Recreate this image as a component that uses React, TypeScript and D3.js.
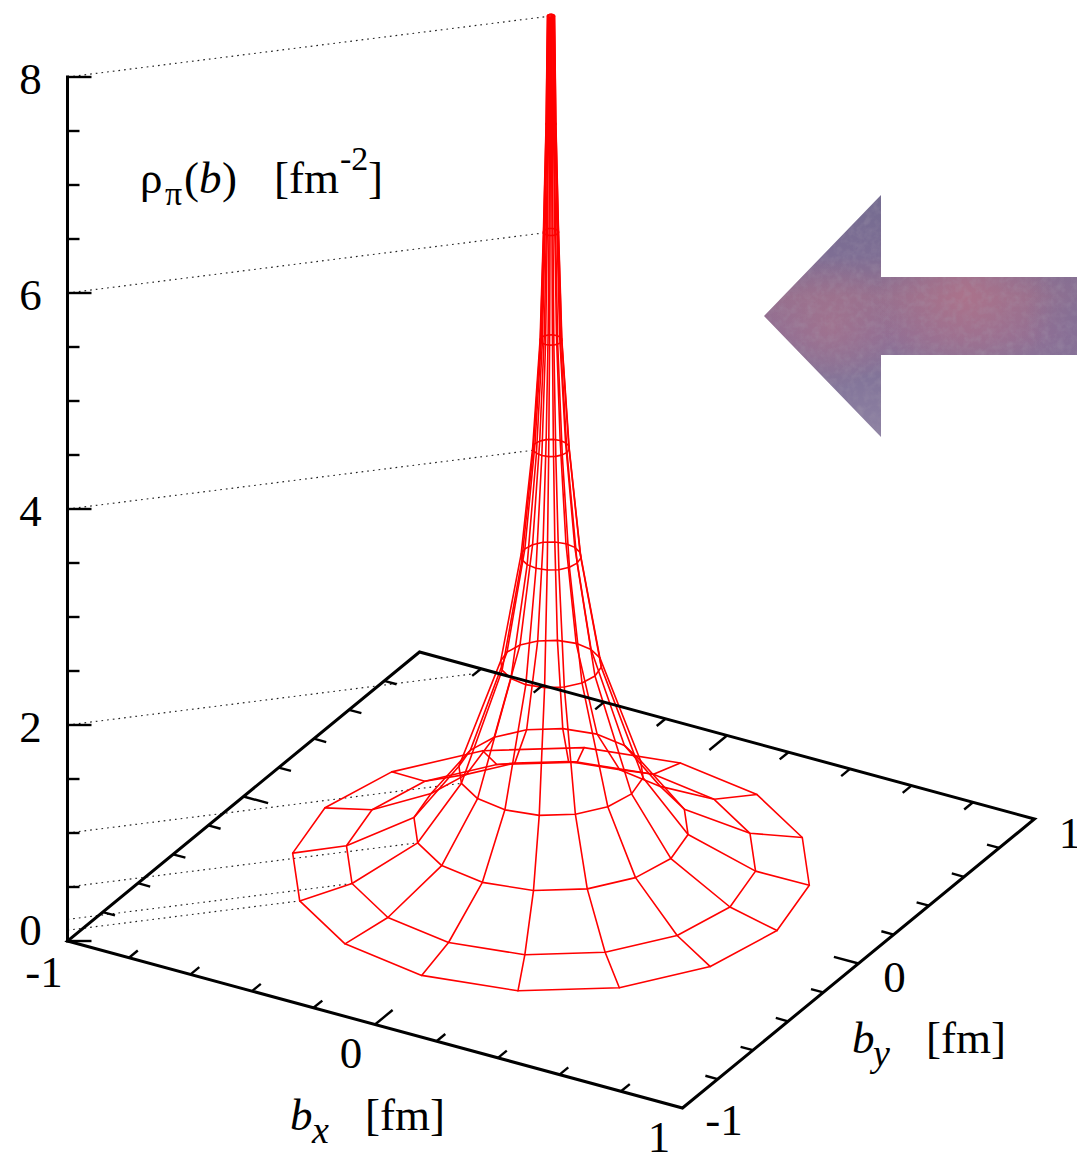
import React from "react";
import * as d3 from "d3";

// ---- data ----
const ringHeights = [0.1, 0.2, 0.5, 1, 2, 3, 4, 5, 6, 7, 8];
const ringRadii = [0.735, 0.582, 0.39, 0.262, 0.143, 0.085, 0.052, 0.031, 0.0215, 0.014, 0.01];
const spokeAnglesDeg = d3.range(0, 360, 22.5);
const guideHeights = [0.1, 0.2, 0.5, 1, 2, 4, 6, 8];
const guideStopRadii = [0.735, 0.582, 0.39, 0.262, 0.213, 0.052, 0.0215, 0.01];
const zTickValues = d3.range(0, 8.5, 0.5);
const zTickLabels = [0, 2, 4, 6, 8];
const planeTicks = [-0.8, -0.6, -0.4, -0.2, 0, 0.2, 0.4, 0.6, 0.8];

// ---- projection: an oblique view of the (bx, by, z) box ----
const W = 1077;
const H = 1153;
const xEdgeX = d3.scaleLinear().domain([-1, 1]).range([-307.5, 307.5]);
const xEdgeY = d3.scaleLinear().domain([-1, 1]).range([-83.5, 83.5]);
const yEdgeX = d3.scaleLinear().domain([-1, 1]).range([-176, 176]);
const yEdgeY = d3.scaleLinear().domain([-1, 1]).range([144.5, -144.5]);
const zLift = d3.scaleLinear().domain([0, 8]).range([0, 864]);
const originX = 551;
const originY = 880;

type P = [number, number];
const proj = (bx: number, by: number, z = 0): P => [
  originX + xEdgeX(bx) + yEdgeX(by),
  originY + xEdgeY(bx) + yEdgeY(by) - zLift(z),
];
const openLine = d3.line<P>();
const closedLine = d3.line<P>().curve(d3.curveLinearClosed);
const seg = (a: P, b: P) => openLine([a, b]) as string;

const vertex = (r: number, deg: number, z: number) => {
  const t = (deg * Math.PI) / 180;
  return proj(r * Math.cos(t), r * Math.sin(t), z);
};

const rings = ringHeights.map(
  (z, i) => closedLine(spokeAnglesDeg.map((a) => vertex(ringRadii[i], a, z))) as string
);
const spokes = spokeAnglesDeg.map(
  (a) => openLine(ringHeights.map((z, i) => vertex(ringRadii[i], a, z))) as string
);

const MINOR_X = 0.04;
const MAJOR_X = 0.08;
const MINOR_Y = 0.05;
const MAJOR_Y = 0.1;

const serif = "'Liberation Serif','Times New Roman',serif";

const arrowPts: P[] = [
  [764, 316], [881, 195], [881, 277], [1077, 277], [1077, 355], [881, 355], [881, 437],
];

export default function App() {
  const ticks: string[] = [];
  planeTicks.forEach((v) => {
    const lenX = v === 0 ? MAJOR_X : MINOR_X;
    const lenY = v === 0 ? MAJOR_Y : MINOR_Y;
    ticks.push(seg(proj(-1, v), proj(-1 + lenX, v)));
    ticks.push(seg(proj(1, v), proj(1 - lenX, v)));
    ticks.push(seg(proj(v, -1), proj(v, -1 + lenY)));
    ticks.push(seg(proj(v, 1), proj(v, 1 - lenY)));
  });
  const zx = proj(-1, -1)[0];
  const zy = (z: number) => proj(-1, -1, z)[1];
  const base = [proj(-1, -1), proj(1, -1), proj(1, 1), proj(-1, 1)];
  const labelSize = 45;

  return (
    <svg
      width={W}
      height={H}
      viewBox={`0 0 ${W} ${H}`}
      style={{ position: "absolute", left: 0, top: 0, display: "block", background: "#fff" }}
    >
      <defs>
        <clipPath id="arrowClip">
          <polygon points={arrowPts.map((p) => p.join(",")).join(" ")} />
        </clipPath>
        <linearGradient id="arrowBase" gradientUnits="userSpaceOnUse" x1="0" y1="195" x2="0" y2="437">
          <stop offset="0" stopColor="#736b90" />
          <stop offset="0.25" stopColor="#7e6e94" />
          <stop offset="0.42" stopColor="#96708e" />
          <stop offset="0.58" stopColor="#916f94" />
          <stop offset="0.75" stopColor="#827499" />
          <stop offset="1" stopColor="#8e82a3" />
        </linearGradient>
        <radialGradient id="arrowGlow" gradientUnits="userSpaceOnUse" cx="965" cy="295" r="90">
          <stop offset="0" stopColor="#b0738a" stopOpacity="0.8" />
          <stop offset="1" stopColor="#b0738a" stopOpacity="0" />
        </radialGradient>
        <radialGradient id="arrowEnd" gradientUnits="userSpaceOnUse" cx="1095" cy="315" r="70">
          <stop offset="0" stopColor="#7a6f98" stopOpacity="0.75" />
          <stop offset="1" stopColor="#7a6f98" stopOpacity="0" />
        </radialGradient>
        <radialGradient id="arrowHead" gradientUnits="userSpaceOnUse" cx="830" cy="325" r="65">
          <stop offset="0" stopColor="#a8748c" stopOpacity="0.6" />
          <stop offset="1" stopColor="#a8748c" stopOpacity="0" />
        </radialGradient>
        <filter id="mottle" x="0" y="0" width="100%" height="100%">
          <feTurbulence type="fractalNoise" baseFrequency="0.14" numOctaves="3" seed="4" />
          <feColorMatrix values="0 0 0 0 0.38  0 0 0 0 0.33  0 0 0 0 0.42  0.4 0.4 0 0 -0.34" />
        </filter>
      </defs>

      <g clipPath="url(#arrowClip)">
        <rect x={764} y={195} width={313} height={242} fill="url(#arrowBase)" />
        <rect x={764} y={195} width={313} height={242} fill="url(#arrowGlow)" />
        <rect x={764} y={195} width={313} height={242} fill="url(#arrowEnd)" />
        <rect x={764} y={195} width={313} height={242} fill="url(#arrowHead)" />
        <rect x={764} y={195} width={313} height={242} filter="url(#mottle)" />
      </g>

      <g stroke="#222" strokeWidth={1.15} strokeDasharray="1.7 4" fill="none">
        {guideHeights.map((z, i) => (
          <path key={z} d={seg(proj(-1, -1, z), vertex(guideStopRadii[i], 225, z))} />
        ))}
      </g>

      <g stroke="#ff0000" strokeWidth={1.6} fill="none" strokeLinejoin="round" strokeLinecap="round">
        {spokes.map((d, i) => <path key={i} d={d} />)}
        {rings.map((d, i) => <path key={i} d={d} />)}
      </g>

      <g stroke="#000" fill="none">
        <path d={seg(proj(-1, -1, 0), proj(-1, -1, 8))} strokeWidth={3} strokeLinecap="square" />
        <path d={closedLine(base) as string} strokeWidth={3} strokeLinejoin="miter" />
        {zTickValues.map((z) => (
          <path
            key={z}
            d={seg([zx, zy(z)], [zx + (zTickLabels.includes(z) ? 24 : 12), zy(z)])}
            strokeWidth={2.4}
          />
        ))}
        {ticks.map((d, i) => <path key={i} d={d} strokeWidth={2.4} />)}
      </g>

      <g fontFamily={serif} fontSize={labelSize} fill="#000" textAnchor="middle">
        {zTickLabels.map((z) => (
          <text key={z} x={30.5} y={zy(z) + (z === 0 ? 4 : 17)}>{z}</text>
        ))}
        <text x={44} y={987}>-1</text>
        <text x={351} y={1068}>0</text>
        <text x={659} y={1152}>1</text>
        <text x={724} y={1135}>-1</text>
        <text x={894.5} y={992}>0</text>
        <text x={1070} y={848}>1</text>
      </g>

      <g fontFamily={serif} fontSize={labelSize} fill="#000">
        <text x={290} y={1130} fontStyle="italic">b</text>
        <text x={312} y={1143} fontStyle="italic" fontSize={38}>x</text>
        <text x={365} y={1130}>[fm]</text>

        <text x={852} y={1053} fontStyle="italic">b</text>
        <text x={873} y={1066} fontStyle="italic" fontSize={38}>y</text>
        <text x={926} y={1053}>[fm]</text>

        <text x={140} y={193}>ρ</text>
        <text x={165} y={205} fontSize={34}>π</text>
        <text x={184} y={193}>(</text>
        <text x={199} y={193} fontStyle="italic">b</text>
        <text x={222} y={193}>)</text>
        <text x={274} y={193}>[fm</text>
        <text x={340} y={170} fontSize={34}>-2</text>
        <text x={368} y={193}>]</text>
      </g>
    </svg>
  );
}
